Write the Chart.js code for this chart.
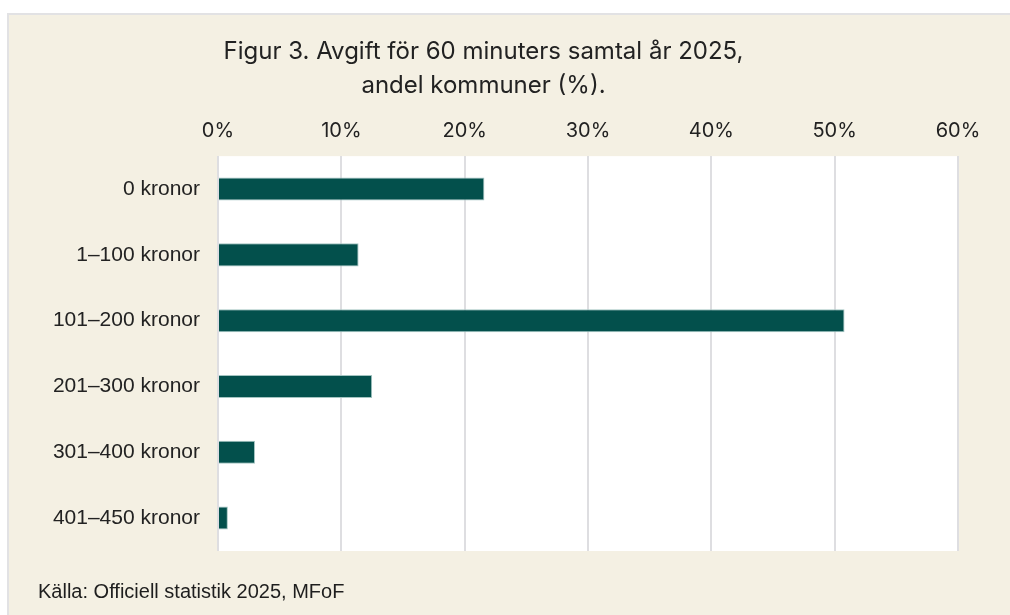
<!DOCTYPE html>
<html>
<head>
<meta charset="utf-8">
<script src="https://cdn.jsdelivr.net/npm/chart.js@4"></script>
<style>
  body { margin: 0; background: #fff; width: 1010px; height: 615px; overflow: hidden; }
  #box { position: absolute; left: 7px; top: 13px; width: 1010px; height: 620px;
         background: #f4f0e3; border-top: 2px solid #e2e2e4; border-left: 2px solid #e2e2e4; }
  #wrap { position: absolute; left: 0; top: 0; width: 1001px; height: 600px; }
  #source { position: absolute; left: 29px; top: 565px; font-family: "Liberation Sans", Arial, sans-serif;
            font-size: 20px; color: #1e1e1e; }
</style>
</head>
<body>
<div id="box">
  <div id="wrap"><canvas id="graph"></canvas></div>
  <div id="source">Källa: Officiell statistik 2025, MFoF</div>
</div>
<script>
// categories and values (percent of municipalities)
const categories = ['0 kronor', '1–100 kronor', '101–200 kronor', '201–300 kronor', '301–400 kronor', '401–450 kronor'];
const shares = [21.6, 11.4, 50.8, 12.5, 3.0, 0.8];
const tickMax = 60;
const tickStep = 10;

// white plot area on the beige background
const plotBg = {
    id: 'plotBg',
    beforeDraw(chart) {
        const a = chart.chartArea;
        chart.ctx.save();
        chart.ctx.fillStyle = '#ffffff';
        chart.ctx.fillRect(a.left, a.top, a.right - a.left, a.bottom - a.top);
        chart.ctx.restore();
    }
};

const ctx = document.getElementById('graph').getContext('2d');
const chart = new Chart(ctx, {
    type: 'bar',
    data: {
        labels: categories,
        datasets: [{
            data: shares,
            backgroundColor: '#03504c',
            borderColor: '#a3c4c1',
            borderWidth: 1,
            borderSkipped: 'left',
            barPercentage: 0.35,
            categoryPercentage: 1,
        }],
    },
    options: {
        indexAxis: 'y',
        responsive: true,
        maintainAspectRatio: false,
        animation: false,
        layout: { padding: { left: 0, right: 52, top: 0, bottom: 64 } },
        plugins: {
            legend: { display: false },
            tooltip: { enabled: false },
            title: {
                display: true,
                text: ['Figur 3. Avgift för 60 minuters samtal år 2025,', 'andel kommuner (%).'],
                color: '#222222',
                font: { family: 'Inter', size: 24, weight: 'normal', lineHeight: 1.42 },
                padding: { top: 20, bottom: 3 },
            },
        },
        scales: {
            x: {
                position: 'top',
                min: 0,
                max: tickMax,
                ticks: {
                    stepSize: tickStep,
                    color: '#222222',
                    padding: 13,
                    font: { family: 'Inter', size: 20 },
                    callback: (v) => v + '%',
                },
                grid: { color: '#dedee1', lineWidth: 2, drawTicks: false },
                border: { display: false },
            },
            y: {
                ticks: {
                    color: '#222222',
                    padding: 18,
                    font: { family: 'Liberation Sans', size: 21 },
                },
                grid: { display: false, drawTicks: false },
                border: { display: false },
                afterFit(scale) { scale.width = 209; },
            },
        },
    },
    plugins: [plotBg],
});
</script>
</body>
</html>
